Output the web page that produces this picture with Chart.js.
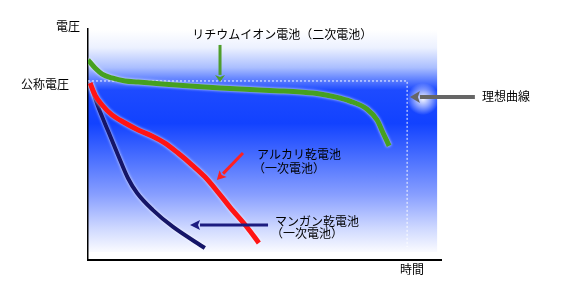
<!DOCTYPE html>
<html lang="ja">
<head>
    <meta charset="UTF-8">
    <title>電池の放電特性</title>
    <script src="https://cdn.jsdelivr.net/npm/chart.js"></script>
    <style>
        body {
            margin: 0;
            background: #ffffff;
        }
        #wrap {
            width: 563px;
            height: 289px;
        }
    </style>
</head>
<body>
    <div id="wrap">
        <canvas id="dischargeChart" width="563" height="289"></canvas>
    </div>
    <script>
        // time (x) and voltage (y), both in relative units 0..100
        const liIonTime = [0, 2.0, 4.0, 6.8, 10.5, 14.2, 21.0, 28.9, 37.4, 45.9, 54.4, 60.1, 65.7, 70.0, 74.2, 79.0, 81.9, 83.6, 85.3];
        const liIonVolt = [86.6, 83.1, 80.5, 78.8, 77.5, 77.1, 76.2, 75.3, 74.5, 73.8, 73.2, 72.7, 71.9, 70.6, 68.8, 65.4, 60.6, 55.0, 49.4];

        const alkalineTime = [0.6, 2.0, 4.0, 6.8, 10.5, 14.2, 18.1, 21.8, 25.5, 29.5, 33.1, 36.8, 40.2, 45.0, 48.4];
        const alkalineVolt = [76.6, 71.4, 67.1, 62.8, 59.3, 56.3, 53.7, 50.6, 46.3, 41.1, 36.0, 29.4, 22.9, 14.3, 7.4];

        const manganeseTime = [0.6, 2.8, 5.7, 8.5, 11.3, 13.9, 18.4, 24.1, 33.1];
        const manganeseVolt = [76.6, 66.7, 55.8, 45.5, 35.5, 29.0, 21.6, 14.3, 5.2];

        const idealTime = [0, 90.4, 90.4];
        const idealVolt = [77.5, 77.5, 5.6];

        const axisLabels = ['電圧', '公称電圧', '時間'];
        const seriesLabels = ['リチウムイオン電池（二次電池）', 'アルカリ乾電池', 'マンガン乾電池', '理想曲線'];
        const subLabel = '（一次電池）';

        function toPoints(xs, ys) {
            return xs.map((x, i) => ({ x: x, y: ys[i] }));
        }

        const FONT = '12px "Noto Sans CJK JP", "Noto Sans", sans-serif';

        function arrow(ctx, x1, y1, x2, y2, color, width, headLen, headHalf) {
            const ang = Math.atan2(y2 - y1, x2 - x1);
            const bx = x2 - Math.cos(ang) * headLen;
            const by = y2 - Math.sin(ang) * headLen;
            ctx.save();
            ctx.strokeStyle = color;
            ctx.fillStyle = color;
            ctx.lineWidth = width;
            ctx.beginPath();
            ctx.moveTo(x1, y1);
            ctx.lineTo(bx, by);
            ctx.stroke();
            ctx.beginPath();
            ctx.moveTo(x2, y2);
            ctx.lineTo(bx - Math.sin(ang) * headHalf, by + Math.cos(ang) * headHalf);
            ctx.lineTo(bx + Math.cos(ang) * 2, by + Math.sin(ang) * 2);
            ctx.lineTo(bx + Math.sin(ang) * headHalf, by - Math.cos(ang) * headHalf);
            ctx.closePath();
            ctx.fill();
            ctx.restore();
        }

        const backdrop = {
            id: 'backdrop',
            beforeDraw(chart) {
                const { ctx, chartArea, scales } = chart;
                const left = chartArea.left;
                const right = scales.x.getPixelForValue(98.9);
                const top = chartArea.top + 1;
                const bottom = chartArea.bottom - 8;
                const g = ctx.createLinearGradient(0, top, 0, bottom);
                g.addColorStop(0, 'rgb(255,255,255)');
                g.addColorStop(0.08, 'rgb(236,241,255)');
                g.addColorStop(0.17, 'rgb(170,190,255)');
                g.addColorStop(0.27, 'rgb(30,75,255)');
                g.addColorStop(0.42, 'rgb(18,66,255)');
                g.addColorStop(0.58, 'rgb(75,112,255)');
                g.addColorStop(0.74, 'rgb(135,158,255)');
                g.addColorStop(0.89, 'rgb(205,215,255)');
                g.addColorStop(1, 'rgb(250,251,255)');
                ctx.save();
                ctx.fillStyle = g;
                ctx.fillRect(left, top, right - left, bottom - top);

                // soft white glow at the ideal-curve pointer
                const gx = scales.x.getPixelForValue(94.9);
                const gy = scales.y.getPixelForValue(69.7);
                const rg = ctx.createRadialGradient(gx, gy, 0, gx, gy, 16);
                rg.addColorStop(0, 'rgba(255,255,255,0.95)');
                rg.addColorStop(0.5, 'rgba(255,255,255,0.5)');
                rg.addColorStop(1, 'rgba(255,255,255,0)');
                ctx.fillStyle = rg;
                ctx.fillRect(gx - 16, gy - 16, 32, 32);
                ctx.restore();
            },
            beforeDatasetDraw(chart, args) {
                const ctx = chart.ctx;
                ctx.save();
                if (args.index < 3) {
                    ctx.shadowColor = 'rgba(255,255,255,0.9)';
                    ctx.shadowBlur = 3;
                }
            },
            afterDatasetDraw(chart) {
                chart.ctx.restore();
            },
            afterDraw(chart) {
                const { ctx, scales } = chart;
                const px = v => scales.x.getPixelForValue(v);
                const py = v => scales.y.getPixelForValue(v);

                arrow(ctx, px(37.4), py(93.1), px(37.4), py(77.1), '#4f9e2c', 3, 7, 5);
                arrow(ctx, px(43.9), py(46.3), px(36.5), py(34.6), '#ff2020', 3, 9, 5);
                arrow(ctx, px(51.0), py(15.2), px(28.9), py(15.2), '#1c1c80', 3, 10, 5);
                arrow(ctx, px(109.6), py(70.6), px(91.2), py(70.6), '#666666', 4, 10, 6);

                ctx.save();
                ctx.font = FONT;
                ctx.fillStyle = '#000000';
                ctx.textBaseline = 'middle';
                ctx.textAlign = 'right';
                ctx.fillText(axisLabels[0], px(-2.3), py(100.9));
                ctx.fillText(axisLabels[1], px(-5.4), py(75.8));
                ctx.textAlign = 'left';
                ctx.fillText(axisLabels[2], px(88.4), py(-4.3));
                ctx.fillText(seriesLabels[0], px(29.5), py(97.8));
                ctx.fillText(seriesLabels[1], px(47.9), py(45.9));
                ctx.fillText(subLabel, px(47.9) - 4, py(39.8));
                ctx.fillText(seriesLabels[2], px(53.0), py(16.9));
                ctx.fillText(subLabel, px(53.0) - 4, py(11.3));
                ctx.fillText(seriesLabels[3], px(111.6), py(70.6));
                ctx.restore();
            }
        };

        const ctx = document.getElementById('dischargeChart').getContext('2d');
        new Chart(ctx, {
            type: 'line',
            data: {
                datasets: [
                    {
                        label: seriesLabels[0],
                        data: toPoints(liIonTime, liIonVolt),
                        borderColor: '#46a020',
                        borderWidth: 5,
                        cubicInterpolationMode: 'monotone',
                        pointRadius: 0
                    },
                    {
                        label: seriesLabels[1],
                        data: toPoints(alkalineTime, alkalineVolt),
                        borderColor: '#ff1414',
                        borderWidth: 5,
                        cubicInterpolationMode: 'monotone',
                        pointRadius: 0
                    },
                    {
                        label: seriesLabels[2],
                        data: toPoints(manganeseTime, manganeseVolt),
                        borderColor: '#151568',
                        borderWidth: 4,
                        cubicInterpolationMode: 'monotone',
                        pointRadius: 0
                    },
                    {
                        label: seriesLabels[3],
                        data: toPoints(idealTime, idealVolt),
                        borderColor: 'rgba(255,255,255,0.95)',
                        borderWidth: 1,
                        borderDash: [2, 2],
                        tension: 0,
                        pointRadius: 0
                    }
                ]
            },
            options: {
                responsive: false,
                animation: false,
                events: [],
                layout: {
                    padding: { left: 88, right: 122, top: 29, bottom: 29 }
                },
                plugins: {
                    legend: { display: false },
                    tooltip: { enabled: false }
                },
                scales: {
                    x: {
                        type: 'linear',
                        min: 0,
                        max: 100,
                        ticks: { display: false },
                        grid: { display: false, drawTicks: false },
                        border: { display: true, color: '#000000', width: 2 }
                    },
                    y: {
                        type: 'linear',
                        min: 0,
                        max: 100,
                        ticks: { display: false },
                        grid: { display: false, drawTicks: false },
                        border: { display: true, color: '#000000', width: 1.5 }
                    }
                }
            },
            plugins: [backdrop]
        });
    </script>
</body>
</html>
